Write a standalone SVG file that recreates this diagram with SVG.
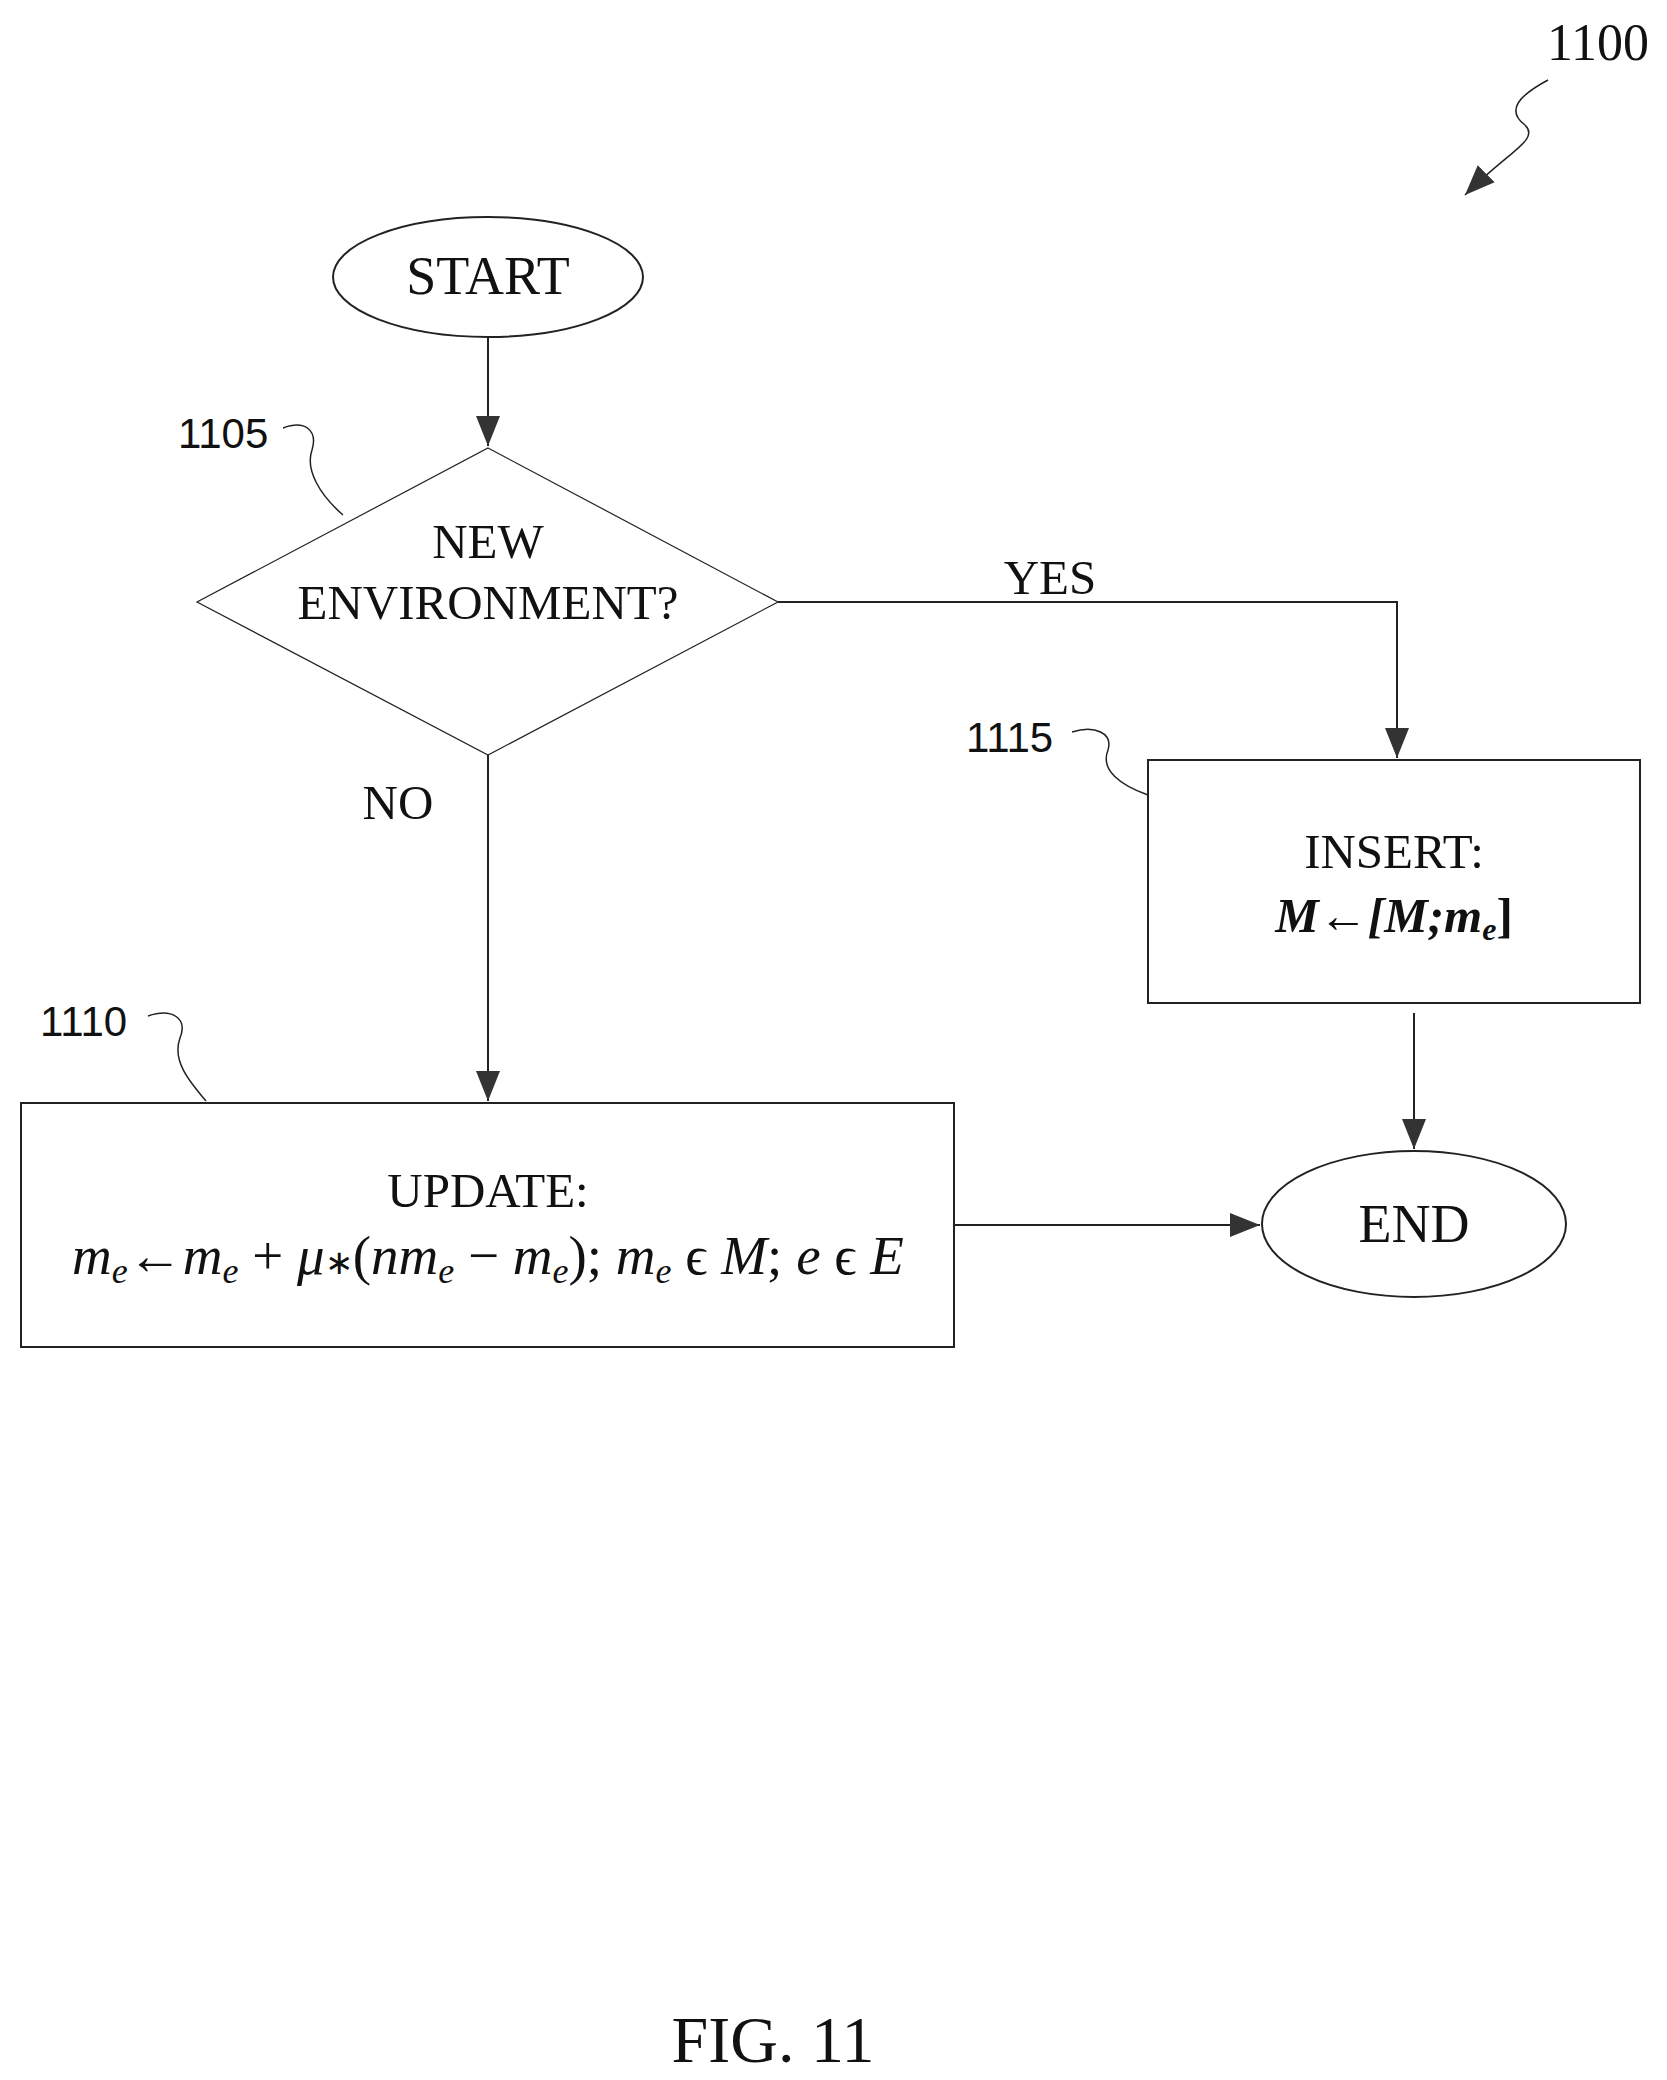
<svg xmlns="http://www.w3.org/2000/svg" width="1667" height="2080" viewBox="0 0 1667 2080">
<defs>
<marker id="ahb" viewBox="0 0 10 10" refX="10" refY="5" markerWidth="30" markerHeight="30" markerUnits="userSpaceOnUse" orient="auto"><path d="M0,1 L10,5 L0,9 z" fill="#333"/></marker>
</defs>
<style>
.s{fill:none;stroke:#222;stroke-width:2}
.c{fill:none;stroke:#222;stroke-width:2;marker-end:url(#ahb)}
.l{fill:none;stroke:#222;stroke-width:1.5}
.t{font-family:"Liberation Serif",serif;font-size:49px;fill:#111;text-anchor:middle}
.r{font-family:"Liberation Sans",sans-serif;font-size:42px;fill:#111}
</style>
<rect width="1667" height="2080" fill="#fff"/>
<g id="ref1100">
<text x="1598" y="60" class="t" style="font-size:52px">1100</text>
<path class="l" d="M1548,80 C1520,95 1505,110 1525,125 C1540,140 1510,150 1465,195" style="marker-end:url(#ahb)"/>
</g>
<g id="start"><ellipse class="s" cx="488" cy="277" rx="155" ry="60"/><text class="t" x="488" y="294" style="font-size:54px">START</text></g>
<g id="n1105"><polygon class="s" points="488,448 778,602 488,755 197,602" style="stroke-width:1.2"/>
<text class="t" x="488" y="558">NEW</text><text class="t" x="488" y="619">ENVIRONMENT?</text>
<text class="r" x="178" y="448">1105</text><path class="l" d="M283,428 C305,420 318,430 312,450 C305,470 320,495 343,515"/></g>
<g id="n1115"><rect class="s" x="1148" y="760" width="492" height="243"/>
<text class="t" x="1394" y="868">INSERT:</text>
<text class="t" x="1394" y="932" font-weight="bold" font-style="italic">M<tspan font-weight="normal" font-style="normal">←</tspan>[M;m<tspan font-size="32" dy="8">e</tspan><tspan dy="-8" font-style="normal">]</tspan></text>
<text class="r" x="966" y="752">1115</text><path class="l" d="M1072,732 C1095,725 1113,733 1108,750 C1100,770 1120,785 1148,795"/></g>
<g id="n1110"><rect class="s" x="21" y="1103" width="933" height="244"/>
<text class="t" x="488" y="1207">UPDATE:</text>
<text class="t" x="488" y="1274" style="font-size:55px" font-style="italic">m<tspan font-size="36" dy="9">e</tspan><tspan dy="-9" font-style="normal">←</tspan>m<tspan font-size="36" dy="9">e</tspan><tspan dy="-9" font-style="normal"> + </tspan>μ<tspan font-style="normal" font-size="34">∗</tspan><tspan font-style="normal">(</tspan>nm<tspan font-size="36" dy="9">e</tspan><tspan dy="-9" font-style="normal"> − </tspan>m<tspan font-size="36" dy="9">e</tspan><tspan dy="-9" font-style="normal">); </tspan>m<tspan font-size="36" dy="9">e</tspan><tspan dy="-9" font-style="normal"> ϵ </tspan>M<tspan font-style="normal">; </tspan>e<tspan font-style="normal"> ϵ </tspan>E</text>
<text class="r" x="40" y="1036">1110</text><path class="l" d="M148,1016 C172,1008 188,1018 180,1038 C172,1060 188,1080 206,1101"/></g>
<g id="end"><ellipse class="s" cx="1414" cy="1224" rx="152" ry="73"/><text class="t" x="1414" y="1242" style="font-size:54px">END</text></g>
<g id="connectors">
<line class="c" x1="488" y1="338" x2="488" y2="446"/>
<polyline class="c" points="778,602 1397,602 1397,758"/>
<line class="c" x1="488" y1="755" x2="488" y2="1101"/>
<line class="c" x1="1414" y1="1013" x2="1414" y2="1149"/>
<line class="c" x1="954" y1="1225" x2="1260" y2="1225"/>
<text class="t" x="1050" y="594">YES</text>
<text class="t" x="398" y="819">NO</text>
</g>
<text class="t" x="773" y="2062" style="font-size:66px">FIG. 11</text>
</svg>
